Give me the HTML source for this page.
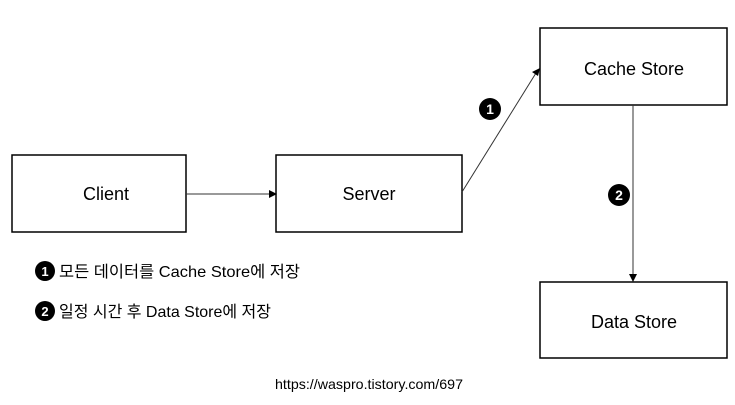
<!DOCTYPE html>
<html><head><meta charset="utf-8"><style>
body{margin:0;width:735px;height:400px;background:#fff;overflow:hidden}
svg text{font-family:"Liberation Sans","Noto Sans CJK KR",sans-serif;fill:#000}
</style></head><body>
<svg width="735" height="400" xmlns="http://www.w3.org/2000/svg">
<g fill="#fff" stroke="#000" stroke-width="1.5">
<rect x="12" y="155" width="174" height="77"/>
<rect x="276" y="155" width="186" height="77"/>
<rect x="540" y="28" width="187" height="77"/>
<rect x="540" y="282" width="187" height="76"/>
</g>
<g font-size="18" text-anchor="middle">
<text x="106" y="200">Client</text>
<text x="369" y="200">Server</text>
<text x="634" y="75">Cache Store</text>
<text x="634" y="328">Data Store</text>
</g>
<g stroke="#333" stroke-width="1" fill="none">
<line x1="186" y1="194" x2="270" y2="194"/>
<line x1="462" y1="192" x2="536" y2="73"/>
<line x1="633" y1="105" x2="633" y2="275"/>
</g>
<polygon points="277,194 269,190 269,198" fill="#000"/>
<polygon points="540,68 532,72 538,76" fill="#000"/>
<polygon points="633,282 629,274 637,274" fill="#000"/>
<g fill="#000">
<circle cx="490" cy="109" r="11"/><circle cx="619" cy="195" r="11"/>
<circle cx="45" cy="271" r="10"/><circle cx="45" cy="311" r="10"/>
</g>
<g font-size="14" text-anchor="middle" font-weight="bold">
<text x="490" y="114" style="fill:#fff">1</text>
<text x="619" y="200" style="fill:#fff">2</text>
<text x="45" y="276" style="fill:#fff" font-size="13">1</text>
<text x="45" y="316" style="fill:#fff" font-size="13">2</text>
</g>
<g font-size="16">
<text x="59" y="277" textLength="241" lengthAdjust="spacingAndGlyphs">모든 데이터를 Cache Store에 저장</text>
<text x="59" y="317" textLength="212" lengthAdjust="spacingAndGlyphs">일정 시간 후 Data Store에 저장</text>
</g>
<text x="369" y="389" font-size="14" text-anchor="middle" textLength="188" lengthAdjust="spacingAndGlyphs">https://waspro.tistory.com/697</text>
</svg>
</body></html>
